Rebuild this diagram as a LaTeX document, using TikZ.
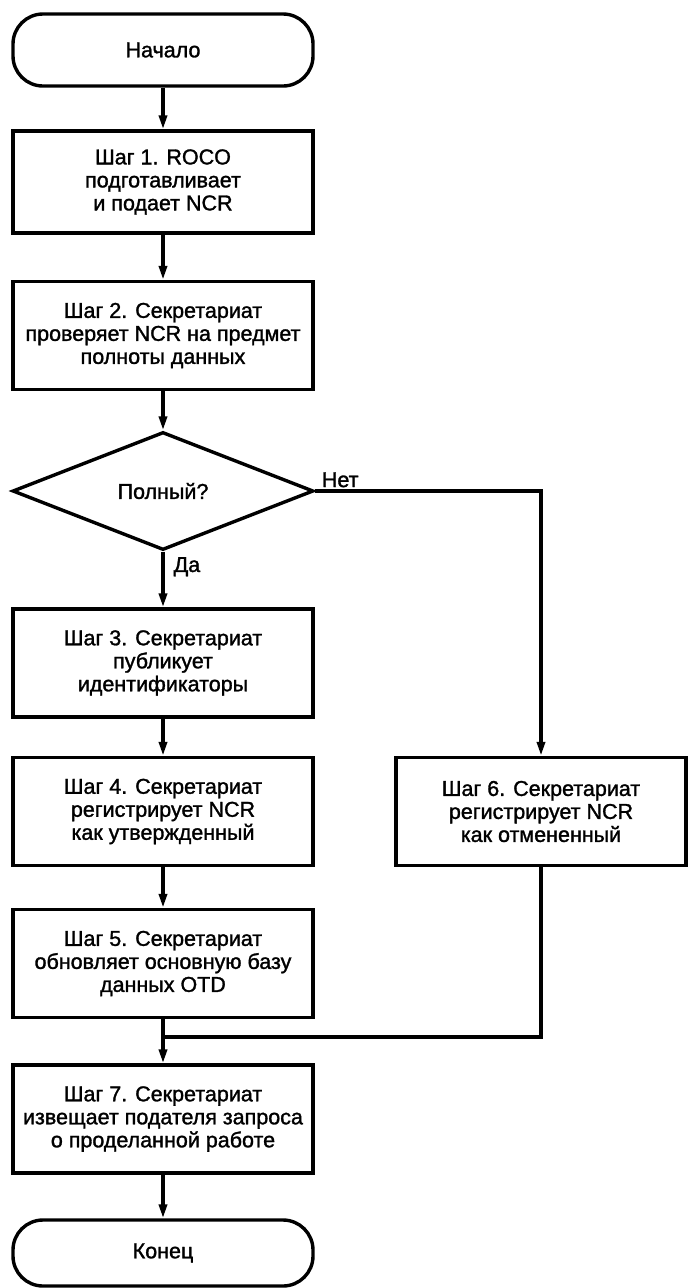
\documentclass[tikz,border=0pt]{standalone}
\usepackage{fontspec}
\setmainfont{Liberation Sans}
\newfontfamily\flowfont{Liberation Sans}[FakeBold=1.4]
\usetikzlibrary{arrows.meta,shapes.geometric}

\begin{document}
\begin{tikzpicture}[x=1pt, y=-1pt, line width=3.4pt,
        font=\flowfont\fontsize{21.5}{23}\selectfont,
        stepbox/.style={draw, rectangle, minimum width=300pt, minimum height=108pt, align=center, inner sep=0pt},
        endpoint/.style={draw, rectangle, rounded corners=30pt, minimum width=300pt, minimum height=72pt},
        choice/.style={draw, diamond, aspect=2.55, minimum width=301pt, minimum height=118pt, inner sep=0pt},
        flow/.style={-{Triangle[length=14pt, width=8pt]}}]
                \useasboundingbox (0,0) rectangle (688,1288);

                % Start and end
                \node[endpoint] (start) at (163,50) {Начало};
                \node[endpoint, minimum height=66pt] (stop) at (163,1253) {Конец};

                % Left column
                \node[stepbox, minimum height=102pt] (s1) at (163,182) {Шаг 1. ROCO\\подготавливает\\и подает NCR};
                \node[stepbox] (s2) at (163,335.5) {Шаг 2. Секретариат\\проверяет NCR на предмет\\полноты данных};
                \node[choice] (full) at (163,491) {Полный?};
                \node[stepbox] (s3) at (163,663) {Шаг 3. Секретариат\\публикует\\идентификаторы};
                \node[stepbox] (s4) at (163,811.5) {Шаг 4. Секретариат\\регистрирует NCR\\как утвержденный};
                \node[stepbox] (s5) at (163,963.5) {Шаг 5. Секретариат\\обновляет основную базу\\данных OTD};
                \node[stepbox] (s7) at (163,1119) {Шаг 7. Секретариат\\извещает подателя запроса\\о проделанной работе};

                % Right column
                \node[stepbox, minimum width=290pt] (s6) at (541,811.5) {Шаг 6. Секретариат\\регистрирует NCR\\как отмененный};

                % Branch labels
                \node[anchor=south west, inner sep=2pt] (no) at ([xshift=3pt]full.east) {Нет};
                \node[anchor=west, inner sep=2pt] (yes) at ([shift={(7,15)}]full.south) {Да};

                % Connectors
                \draw[flow] (start) -- (s1);
                \draw[flow] (s1) -- (s2);
                \draw[flow] (s2) -- (full);
                \draw[flow] (full) -- (s3);
                \draw[flow] (s3) -- (s4);
                \draw[flow] (s4) -- (s5);
                \draw[flow] (s5) -- (s7);
                \draw[flow] (s7) -- (stop);
                \draw[flow] (full.east) -| (s6.north);
                \coordinate (join) at (163,1037);
                \draw (s6.south) |- (join);
            \end{tikzpicture}
\end{document}
